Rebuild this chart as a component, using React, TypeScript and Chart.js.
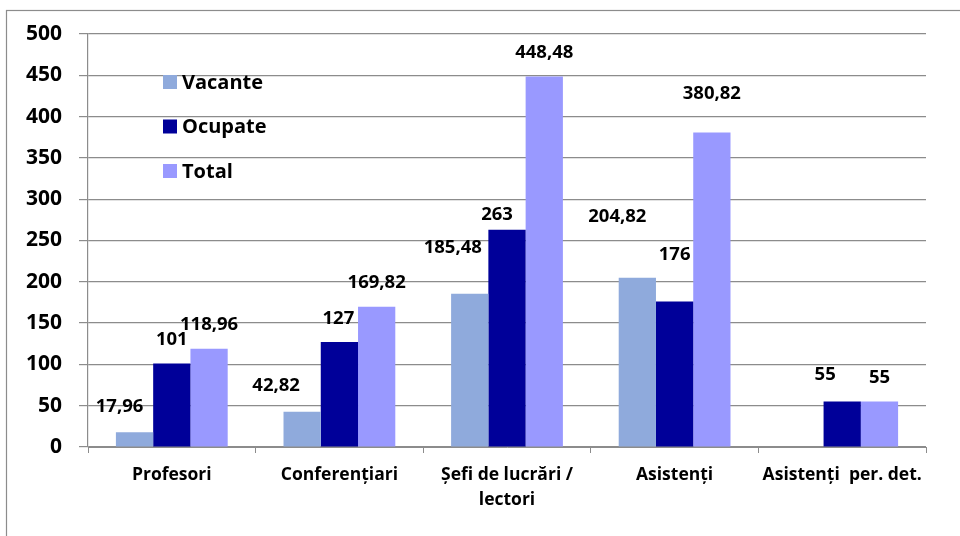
import React, { useEffect, useRef } from "react";
import { Chart, registerables } from "chart.js";

Chart.register(...registerables);

const categories: (string | string[])[] = [
  "Profesori",
  "Conferențiari",
  ["Șefi de lucrări /", "lectori"],
  "Asistenți",
  "Asistenți  per. det.",
];

const seriesNames = ["Vacante", "Ocupate", "Total"];
const vacante: (number | null)[] = [17.96, 42.82, 185.48, 204.82, null];
const ocupate: (number | null)[] = [101, 127, 263, 176, 55];
const total: (number | null)[] = [118.96, 169.82, 448.48, 380.82, 55];

const yTicks = [0, 50, 100, 150, 200, 250, 300, 350, 400, 450, 500];

const seriesColors = ["#8FAADC", "#000099", "#9999FF"];

// label nudges [dx, dy] relative to bar top-centre (style only)
const labelNudges: number[][][] = [
  [[-15, -25], [-26, -26], [-17, -46], [-20, -61], [0, 0]],
  [[0, -24], [-1, -23], [-10, -15], [0, -47], [-17, -27]],
  [[0, -24], [0, -24], [0, -24], [0, -39], [0, -24]],
];

const FONT = "'Open Sans', 'Noto Sans', sans-serif";
const GRID = "#8c8c8c";

const fmt = (v: number) => String(v).replace(".", ",");

const decorPlugin = {
  id: "decor",
  beforeDraw(chart: any) {
    const ctx = chart.ctx;
    ctx.save();
    ctx.strokeStyle = GRID;
    ctx.lineWidth = 1.2;
    ctx.strokeRect(6.5, 10.5, 1000, 1000);
    ctx.restore();
  },
  afterDatasetsDraw(chart: any) {
    const ctx = chart.ctx;
    const area = chart.chartArea;
    ctx.save();
    ctx.font = `bold 18.5px ${FONT}`;
    ctx.fillStyle = "#000";
    ctx.textAlign = "center";
    ctx.textBaseline = "middle";
    chart.data.datasets.forEach((ds: any, di: number) => {
      const meta = chart.getDatasetMeta(di);
      meta.data.forEach((bar: any, i: number) => {
        const v = ds.data[i];
        if (v === null || v === undefined) return;
        const n = labelNudges[di][i];
        ctx.fillText(fmt(v), bar.x + n[0], bar.y + n[1]);
      });
    });
    ctx.font = `bold 20px ${FONT}`;
    ctx.textAlign = "left";
    chart.data.datasets.forEach((ds: any, di: number) => {
      const y = area.top + 48 + di * 44.5;
      ctx.fillStyle = ds.backgroundColor;
      ctx.fillRect(area.left + 75, y - 7, 14, 14);
      ctx.fillStyle = "#000";
      ctx.fillText(ds.label, area.left + 94, y + 1);
    });
    ctx.restore();
  },
};

export default function App() {
  const ref = useRef<HTMLCanvasElement | null>(null);
  useEffect(() => {
    if (!ref.current) return;
    const series = [vacante, ocupate, total];
    const chart = new Chart(ref.current, {
      type: "bar",
      data: {
        labels: categories as any,
        datasets: series.map((d, i) => ({
          label: seriesNames[i],
          data: d,
          backgroundColor: seriesColors[i],
          borderWidth: 0,
          categoryPercentage: 0.667,
          barPercentage: 1.0,
        })),
      },
      options: {
        animation: false,
        responsive: false,
        devicePixelRatio: 1,
        layout: { padding: { top: 34, right: 34, left: 0, bottom: 0 } },
        plugins: {
          legend: { display: false },
          tooltip: { enabled: false },
        },
        scales: {
          x: {
            grid: {
              offset: true,
              drawOnChartArea: false,
              drawTicks: true,
              tickLength: 6,
              color: GRID,
            },
            border: { display: true, color: GRID },
            ticks: {
              color: "#000",
              font: { family: FONT, size: 17.5, weight: "bold", lineHeight: 1.4 },
              padding: 10,
              maxRotation: 0,
              autoSkip: false,
            },
            afterFit: (s: any) => {
              s.height = 89;
            },
          },
          y: {
            min: 0,
            max: 500,
            afterBuildTicks: (s: any) => {
              s.ticks = yTicks.map((v) => ({ value: v }));
            },
            grid: { color: GRID, tickLength: 9, lineWidth: 1.2 },
            border: { display: true, color: GRID, width: 1.2 },
            ticks: {
              color: "#000",
              font: { family: FONT, size: 21, weight: "bold" },
              padding: 17,
            },
            afterFit: (s: any) => {
              s.width = 88;
            },
          },
        },
      },
      plugins: [decorPlugin],
    });
    return () => chart.destroy();
  }, []);
  return (
    <div style={{ position: "absolute", left: 0, top: 0, width: 960, height: 536, background: "#fff" }}>
      <canvas ref={ref} width={960} height={536} style={{ display: "block" }} />
    </div>
  );
}
